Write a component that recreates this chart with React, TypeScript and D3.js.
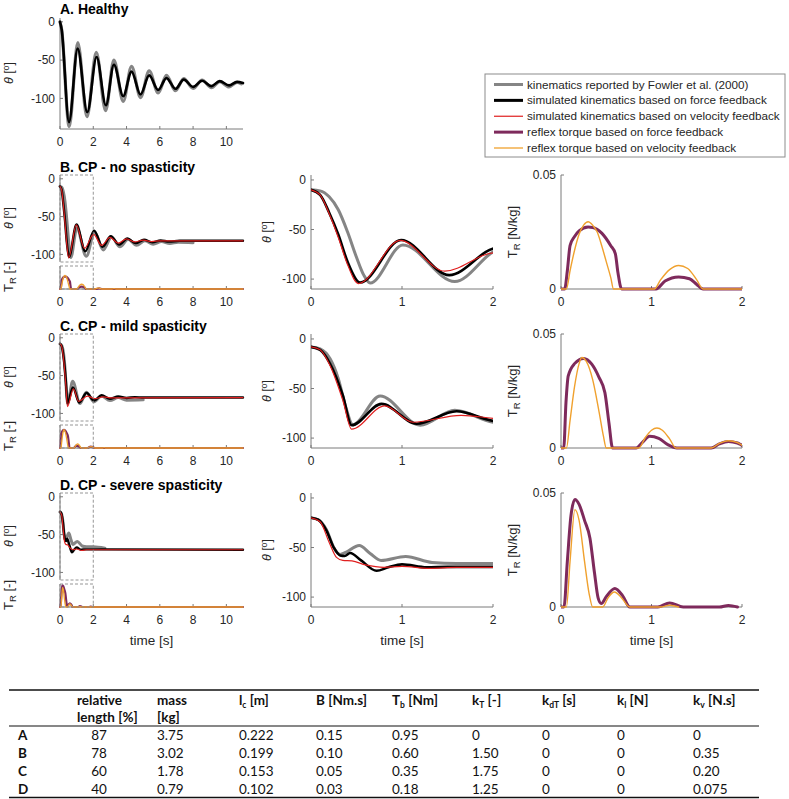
import React from "react";
import * as d3 from "d3";

type Pt = [number, number];

// ---------- Panel A (healthy), time [s] / angle [deg] ----------
const A_fowler: Pt[] = [[0,0],[0.1,-10],[0.55,-137],[1.07,-27],[1.62,-124],[2.18,-40],[2.74,-116],[3.24,-50],[3.8,-104],[4.3,-58],[4.84,-99],[5.36,-64],[5.9,-93],[6.4,-70],[6.94,-90],[7.44,-74],[8.0,-87],[8.54,-76],[9.1,-86],[9.6,-78],[10.16,-85],[10.64,-79],[10.9,-81]];
const A_force: Pt[] = [[0,0],[0.1,-10],[0.54,-131],[1.06,-35],[1.64,-118],[2.2,-46],[2.76,-109],[3.24,-56],[3.8,-97],[4.3,-65],[4.84,-95],[5.36,-70],[5.9,-89],[6.4,-73.5],[6.94,-87.5],[7.44,-75.5],[8.0,-85],[8.54,-77],[9.1,-84],[9.6,-77.5],[10.16,-83],[10.64,-78.5],[11,-80]];

// ---------- Panel B (CP - no spasticity) ----------
const B_fowler: Pt[] = [[0,-10],[0.1,-11],[0.2,-17],[0.3,-30],[0.4,-52],[0.5,-78],[0.58,-96],[0.65,-104],[1.01,-65.5],[1.58,-102.5],[2.08,-70.5],[2.6,-94],[3.1,-77],[3.6,-90],[4.1,-80],[4.6,-88],[5.1,-82],[5.6,-86.5],[6.1,-83],[6.6,-85.5],[7.1,-84],[8.0,-84.5]];
const B_force: Pt[] = [[0,-10],[0.1,-15],[0.2,-33],[0.3,-55],[0.4,-82],[0.54,-103.5],[0.99,-60.5],[1.52,-96],[2.05,-68.5],[2.55,-90],[3.05,-76],[3.55,-87],[4.05,-79],[4.55,-85],[5.05,-80.5],[5.55,-84],[6.05,-81.5],[6.55,-83],[7.2,-82],[11,-82]];
const B_velocity: Pt[] = [[0,-10],[0.1,-15],[0.2,-34],[0.3,-58],[0.4,-85],[0.52,-104.5],[0.98,-61],[1.47,-92],[2.02,-73.5],[2.5,-88],[3.0,-77.5],[3.5,-85],[4.0,-79.5],[4.5,-83.5],[5.0,-81],[5.5,-83],[6.0,-82],[11,-82]];
const B_trForce: Pt[] = [[0,0],[0.04,0],[0.07,0.008],[0.1,0.019],[0.15,0.023],[0.2,0.0255],[0.3,0.0272],[0.35,0.027],[0.45,0.0245],[0.55,0.019],[0.6,0.0155],[0.63,0.007],[0.67,0],[1.05,0],[1.15,0.0035],[1.3,0.0053],[1.42,0.0045],[1.5,0.002],[1.57,0],[2.15,0],[2.35,0.0012],[2.55,0],[11,0]];
const B_trVelocity: Pt[] = [[0,0],[0.06,0],[0.1,0.008],[0.15,0.017],[0.2,0.024],[0.25,0.028],[0.3,0.0295],[0.35,0.028],[0.4,0.025],[0.45,0.019],[0.5,0.012],[0.55,0.005],[0.58,0],[1.03,0],[1.1,0.004],[1.2,0.0085],[1.3,0.0103],[1.4,0.009],[1.5,0.004],[1.57,0],[2.1,0],[2.3,0.0025],[2.5,0],[3.1,0],[3.25,0.0008],[3.4,0],[11,0]];

// ---------- Panel C (CP - mild spasticity) ----------
const C_fowler: Pt[] = [[0,-8],[0.1,-10],[0.21,-20],[0.3,-40],[0.38,-68],[0.46,-86.5],[0.76,-57.5],[1.2,-87],[1.58,-72],[2.05,-84.5],[2.5,-77],[3.0,-83],[3.5,-79],[4.0,-82.5],[5.0,-82]];
const C_force: Pt[] = [[0,-8],[0.1,-11],[0.21,-25],[0.35,-57],[0.446,-87],[0.775,-65.5],[1.16,-85.5],[1.6,-73],[2.05,-83],[2.5,-76],[3.0,-80.5],[3.5,-77.5],[4.0,-79.5],[4.5,-78.5],[5,-79],[11,-79]];
const C_velocity: Pt[] = [[0,-8],[0.1,-11],[0.21,-27],[0.35,-62],[0.446,-91],[0.81,-67.5],[1.12,-84],[1.65,-77],[2.1,-80.5],[2.6,-78],[3.1,-79.5],[11,-79]];
const C_trForce: Pt[] = [[0,0],[0.03,0],[0.055,0.02],[0.08,0.0316],[0.15,0.037],[0.25,0.0393],[0.34,0.0368],[0.42,0.031],[0.485,0.0243],[0.53,0.011],[0.57,0],[0.83,0],[0.9,0.0025],[0.98,0.0051],[1.08,0.0042],[1.18,0.0015],[1.28,0],[1.66,0],[1.75,0.0018],[1.85,0.0029],[1.95,0.0022],[2.0,0.0012],[2.1,0],[11,0]];
const C_trVelocity: Pt[] = [[0,0],[0.06,0],[0.1,0.012],[0.15,0.027],[0.2,0.037],[0.23,0.0397],[0.28,0.038],[0.35,0.03],[0.42,0.016],[0.47,0.005],[0.5,0],[0.86,0],[0.93,0.0045],[1.0,0.0078],[1.06,0.0088],[1.12,0.0078],[1.2,0.004],[1.27,0],[1.66,0],[1.75,0.002],[1.85,0.0032],[1.95,0.0024],[2.0,0.0012],[2.1,0],[2.55,0],[2.65,0.0008],[2.75,0],[11,0]];

// ---------- Panel D (CP - severe spasticity) ----------
const D_fowler: Pt[] = [[0,-20],[0.08,-22],[0.17,-32],[0.25,-50],[0.32,-57],[0.38,-55],[0.53,-48],[0.65,-56],[0.77,-63],[1.04,-59],[1.33,-65],[1.6,-66],[2.0,-66],[2.7,-68]];
const D_force: Pt[] = [[0,-20],[0.08,-22],[0.17,-33],[0.25,-50],[0.32,-58],[0.37,-58.5],[0.43,-55.5],[0.55,-63],[0.72,-73.5],[0.85,-70],[1.0,-67],[1.27,-70],[1.5,-69.5],[2.0,-69.5],[11,-70]];
const D_velocity: Pt[] = [[0,-20],[0.1,-24],[0.2,-45],[0.28,-60],[0.35,-63],[0.45,-63.5],[0.6,-67.5],[0.8,-70],[1.0,-69],[1.3,-71],[1.6,-70],[2.0,-70],[11,-70]];
const D_trForce: Pt[] = [[0,0],[0.033,0],[0.07,0.02],[0.11,0.04],[0.154,0.0471],[0.2,0.045],[0.26,0.038],[0.32,0.0302],[0.37,0.015],[0.41,0.004],[0.445,0.0015],[0.5,0.0045],[0.595,0.0081],[0.68,0.005],[0.76,0],[1.07,0],[1.2,0.0018],[1.35,0],[1.75,0],[1.85,0.0007],[1.95,0],[11,0]];
const D_trVelocity: Pt[] = [[0,0],[0.06,0],[0.1,0.02],[0.154,0.0427],[0.2,0.038],[0.26,0.02],[0.31,0.006],[0.35,0],[0.46,0],[0.52,0.004],[0.59,0.0066],[0.67,0.004],[0.76,0],[1.1,0],[1.2,0.0008],[1.3,0],[11,0]];

// ---------- ticks / labels ----------
const longTimeTicks = [0, 2, 4, 6, 8, 10];
const shortTimeTicks = [0, 1, 2];
const angleTicks = [0, -50, -100];
const torqueTicks = [0, 0.05];
const panelTitles = ["A. Healthy", "B. CP - no spasticity", "C. CP - mild spasticity", "D. CP - severe spasticity"];
const legendLabels = [
  "kinematics reported by Fowler et al. (2000)",
  "simulated kinematics based on force feedback",
  "simulated kinematics based on velocity feedback",
  "reflex torque based on force feedback",
  "reflex torque based on velocity feedback",
];

// ---------- table ----------
const tableRowLabels = ["A", "B", "C", "D"];
const relLength = ["87", "78", "60", "40"];
const massKg = ["3.75", "3.02", "1.78", "0.79"];
const lcM = ["0.222", "0.199", "0.153", "0.102"];
const bNms = ["0.15", "0.10", "0.05", "0.03"];
const tbNm = ["0.95", "0.60", "0.35", "0.18"];
const kT = ["0", "1.50", "1.75", "1.25"];
const kdT = ["0", "0", "0", "0"];
const kl = ["0", "0", "0", "0"];
const kv = ["0", "0.35", "0.20", "0.075"];

const GRAY = "#858585";
const BLACK = "#000000";
const RED = "#e01f1f";
const PURPLE = "#7e2a5c";
const ORANGE = "#f0a12e";
const AXIS = "#7a7a7a";
const TXT = "#262626";
const FONT = "'Liberation Sans', Arial, sans-serif";
const TFONT = "Lato, 'Open Sans', sans-serif";

type Scale = d3.ScaleLinear<number, number>;

function Path({ data, x, y, color, w }: { data: Pt[]; x: Scale; y: Scale; color: string; w: number }) {
  const gen = d3.line<Pt>().x((d) => x(d[0])).y((d) => y(d[1])).curve(d3.curveMonotoneX);
  return <path d={gen(data) || ""} fill="none" stroke={color} strokeWidth={w} strokeLinejoin="round" strokeLinecap="round" />;
}

function YAxis({ x, y, ticks, fmt }: { x: Scale; y: Scale; ticks: number[] | null; fmt?: (v: number) => string }) {
  const [r0, r1] = y.range();
  const x0 = x.range()[0];
  return (
    <g>
      <line x1={x0} x2={x0} y1={r0} y2={r1} stroke={AXIS} strokeWidth={1} />
      {ticks &&
        ticks.map((t) => (
          <g key={t}>
            <line x1={x0} x2={x0 + 3} y1={y(t)} y2={y(t)} stroke={AXIS} strokeWidth={1} />
            <text x={x0 - 5} y={y(t) + 4.2} textAnchor="end" fontSize={12} fill={TXT} fontFamily={FONT}>
              {fmt ? fmt(t) : String(t)}
            </text>
          </g>
        ))}
    </g>
  );
}

function XAxis({ x, yPos, ticks, labels }: { x: Scale; yPos: number; ticks: number[]; labels: boolean }) {
  const [r0, r1] = x.range();
  return (
    <g>
      <line x1={r0} x2={r1} y1={yPos} y2={yPos} stroke={AXIS} strokeWidth={1} />
      {ticks.map((t) => (
        <g key={t}>
          <line x1={x(t)} x2={x(t)} y1={yPos} y2={yPos - 3} stroke={AXIS} strokeWidth={1} />
          {labels && (
            <text x={x(t)} y={yPos + 17} textAnchor="middle" fontSize={12} fill={TXT} fontFamily={FONT}>
              {String(t)}
            </text>
          )}
        </g>
      ))}
    </g>
  );
}

function ThetaLabel({ cx, cy }: { cx: number; cy: number }) {
  return (
    <text transform={`translate(${cx},${cy}) rotate(-90)`} textAnchor="middle" fontSize={12.5} fill={TXT} fontFamily={FONT}>
      <tspan fontStyle="italic">θ</tspan>
      <tspan> [</tspan>
      <tspan dy={-4} fontSize={9}>o</tspan>
      <tspan dy={4}>]</tspan>
    </text>
  );
}

function TorqueLabel({ cx, cy, unit }: { cx: number; cy: number; unit: string }) {
  return (
    <text transform={`translate(${cx},${cy}) rotate(-90)`} textAnchor="middle" fontSize={13} fill={TXT} fontFamily={FONT}>
      <tspan>T</tspan>
      <tspan dy={3} fontSize={9.5}>R</tspan>
      <tspan dy={-3}>{` [${unit}]`}</tspan>
    </text>
  );
}

const rows = [
  { title: panelTitles[1], top: 175, fowler: B_fowler, force: B_force, velocity: B_velocity, trForce: B_trForce, trVelocity: B_trVelocity },
  { title: panelTitles[2], top: 334, fowler: C_fowler, force: C_force, velocity: C_velocity, trForce: C_trForce, trVelocity: C_trVelocity },
  { title: panelTitles[3], top: 493, fowler: D_fowler, force: D_force, velocity: D_velocity, trForce: D_trForce, trVelocity: D_trVelocity },
];

function Row({ r }: { r: (typeof rows)[number] }) {
  const top = r.top;
  const xL = d3.scaleLinear().domain([0, 11]).range([60, 243]);
  const yTh = d3.scaleLinear().domain([-110, 5]).range([top + 87, top]);
  const yTr = d3.scaleLinear().domain([0, 0.05]).range([top + 114, top + 91]);
  const xM = d3.scaleLinear().domain([0, 2]).range([311, 493]);
  const yM = d3.scaleLinear().domain([-110, 5]).range([top + 114, top]);
  const xR = d3.scaleLinear().domain([0, 2]).range([561, 742]);
  const yR = d3.scaleLinear().domain([0, 0.05]).range([top + 114, top]);
  const mid = xM.domain()[1];
  const clipM = d3.scaleLinear().domain([0, 2]).range([0, 2]);
  const cut = (d: Pt[]) => d.filter((p) => p[0] <= clipM(mid) + 0.6);
  return (
    <g>
      <text x={60} y={top - 3} fontSize={14} fontWeight="bold" fill={BLACK} fontFamily={FONT}>
        {r.title}
      </text>
      {/* left theta */}
      <YAxis x={xL} y={yTh} ticks={angleTicks} />
      <Path data={r.fowler} x={xL} y={yTh} color={GRAY} w={3} />
      <Path data={r.force} x={xL} y={yTh} color={BLACK} w={2.4} />
      <Path data={r.velocity} x={xL} y={yTh} color={RED} w={1.2} />
      <rect x={xL(0)} y={top} width={xL(2) - xL(0)} height={87} fill="none" stroke="#8a8a8a" strokeWidth={0.9} strokeDasharray="3 2" />
      <ThetaLabel cx={13} cy={top + 43} />
      {/* left torque */}
      <YAxis x={xL} y={yTr} ticks={null} />
      <XAxis x={xL} yPos={top + 114} ticks={longTimeTicks} labels={true} />
      <Path data={r.trForce} x={xL} y={yTr} color={PURPLE} w={2.2} />
      <Path data={r.trVelocity} x={xL} y={yTr} color={ORANGE} w={1.3} />
      <rect x={xL(0)} y={top + 91} width={xL(2) - xL(0)} height={23} fill="none" stroke="#8a8a8a" strokeWidth={0.9} strokeDasharray="3 2" />
      <TorqueLabel cx={13} cy={top + 102} unit="-" />
      {/* middle */}
      <defs>
        <clipPath id={`cm${top}`}>
          <rect x={311} y={top - 5} width={182} height={124} />
        </clipPath>
        <clipPath id={`cr${top}`}>
          <rect x={561} y={top - 5} width={181} height={124} />
        </clipPath>
      </defs>
      <YAxis x={xM} y={yM} ticks={angleTicks} />
      <XAxis x={xM} yPos={top + 114} ticks={shortTimeTicks} labels={true} />
      <g clipPath={`url(#cm${top})`}>
        <Path data={cut(r.fowler)} x={xM} y={yM} color={GRAY} w={3} />
        <Path data={cut(r.force)} x={xM} y={yM} color={BLACK} w={2.6} />
        <Path data={cut(r.velocity)} x={xM} y={yM} color={RED} w={1.2} />
      </g>
      <ThetaLabel cx={271} cy={top + 57} />
      {/* right */}
      <YAxis x={xR} y={yR} ticks={torqueTicks} fmt={(v) => (v === 0 ? "0" : v.toFixed(2))} />
      <XAxis x={xR} yPos={top + 114} ticks={shortTimeTicks} labels={true} />
      <g clipPath={`url(#cr${top})`}>
        <Path data={cut(r.trForce)} x={xR} y={yR} color={PURPLE} w={3} />
        <Path data={cut(r.trVelocity)} x={xR} y={yR} color={ORANGE} w={1.4} />
      </g>
      <TorqueLabel cx={517} cy={top + 57} unit="N/kg" />
    </g>
  );
}

function Legend() {
  const colors = [GRAY, BLACK, RED, PURPLE, ORANGE];
  const widths = [3, 3, 1.2, 3, 1.3];
  const yRow = d3.scaleLinear().domain([0, 4]).range([84.5, 148]);
  return (
    <g>
      <rect x={485} y={74} width={300} height={83} fill="#fff" stroke="#8c8c8c" strokeWidth={1} />
      {legendLabels.map((l, i) => (
        <g key={l}>
          <line x1={494} x2={523} y1={yRow(i)} y2={yRow(i)} stroke={colors[i]} strokeWidth={widths[i]} />
          <text x={527} y={yRow(i) + 4} fontSize={11.7} fill={TXT} fontFamily={FONT}>
            {l}
          </text>
        </g>
      ))}
    </g>
  );
}

function Table() {
  const cols = [
    { x: 99, anchor: "middle", vals: relLength },
    { x: 157, anchor: "start", vals: massKg },
    { x: 239, anchor: "start", vals: lcM },
    { x: 316, anchor: "start", vals: bNms },
    { x: 392, anchor: "start", vals: tbNm },
    { x: 472, anchor: "start", vals: kT },
    { x: 542, anchor: "start", vals: kdT },
    { x: 617, anchor: "start", vals: kl },
    { x: 693, anchor: "start", vals: kv },
  ];
  const yRow = d3.scaleLinear().domain([0, 3]).range([740, 793.5]);
  const fs = 13.5;
  const Sub = ({ main, sub, rest }: { main: string; sub: string; rest: string }) => (
    <>
      <tspan>{main}</tspan>
      <tspan dy={3} fontSize={8.5}>{sub}</tspan>
      <tspan dy={-3}>{rest}</tspan>
    </>
  );
  return (
    <g fontFamily={TFONT} fill="#111">
      <line x1={9} x2={759} y1={690} y2={690} stroke="#111" strokeWidth={1.6} />
      <line x1={9} x2={759} y1={726} y2={726} stroke="#111" strokeWidth={1.1} />
      <line x1={9} x2={759} y1={797.5} y2={797.5} stroke="#111" strokeWidth={1.6} />
      <g fontWeight="bold" fontSize={fs}>
        <text x={77} y={705}>relative</text>
        <text x={77} y={722}>length [%]</text>
        <text x={157} y={705}>mass</text>
        <text x={157} y={722}>[kg]</text>
        <text x={239} y={705}><Sub main="l" sub="c" rest=" [m]" /></text>
        <text x={316} y={705}>B [Nm.s]</text>
        <text x={392} y={705}><Sub main="T" sub="b" rest=" [Nm]" /></text>
        <text x={472} y={705}><Sub main="k" sub="T" rest=" [-]" /></text>
        <text x={542} y={705}><Sub main="k" sub="dT" rest=" [s]" /></text>
        <text x={617} y={705}><Sub main="k" sub="l" rest=" [N]" /></text>
        <text x={693} y={705}><Sub main="k" sub="v" rest=" [N.s]" /></text>
      </g>
      {tableRowLabels.map((lab, i) => (
        <g key={lab} fontSize={fs}>
          <text x={18} y={yRow(i)} fontWeight="bold">{lab}</text>
          {cols.map((c, j) => (
            <text key={j} x={c.x} y={yRow(i)} textAnchor={c.anchor as any}>
              {c.vals[i]}
            </text>
          ))}
        </g>
      ))}
    </g>
  );
}

export default function App() {
  const xA = d3.scaleLinear().domain([0, 11]).range([60, 243]);
  const yA = d3.scaleLinear().domain([-140, 5]).range([129, 18]);
  return (
    <div style={{ position: "absolute", left: 0, top: 0 }}>
      <svg width={789} height={799} style={{ display: "block", background: "#fff" }}>
        <text x={60} y={14} fontSize={14} fontWeight="bold" fill={BLACK} fontFamily={FONT}>
          {panelTitles[0]}
        </text>
        <YAxis x={xA} y={yA} ticks={angleTicks} />
        <XAxis x={xA} yPos={129} ticks={longTimeTicks} labels={true} />
        <Path data={A_fowler} x={xA} y={yA} color={GRAY} w={3.2} />
        <Path data={A_force} x={xA} y={yA} color={BLACK} w={2.6} />
        <ThetaLabel cx={13} cy={73} />
        <Legend />
        {rows.map((r) => (
          <Row key={r.top} r={r} />
        ))}
        {[151.5, 402, 651.5].map((cx) => (
          <text key={cx} x={cx} y={645} textAnchor="middle" fontSize={13.5} fill={TXT} fontFamily={FONT}>
            time [s]
          </text>
        ))}
        <Table />
      </svg>
    </div>
  );
}
